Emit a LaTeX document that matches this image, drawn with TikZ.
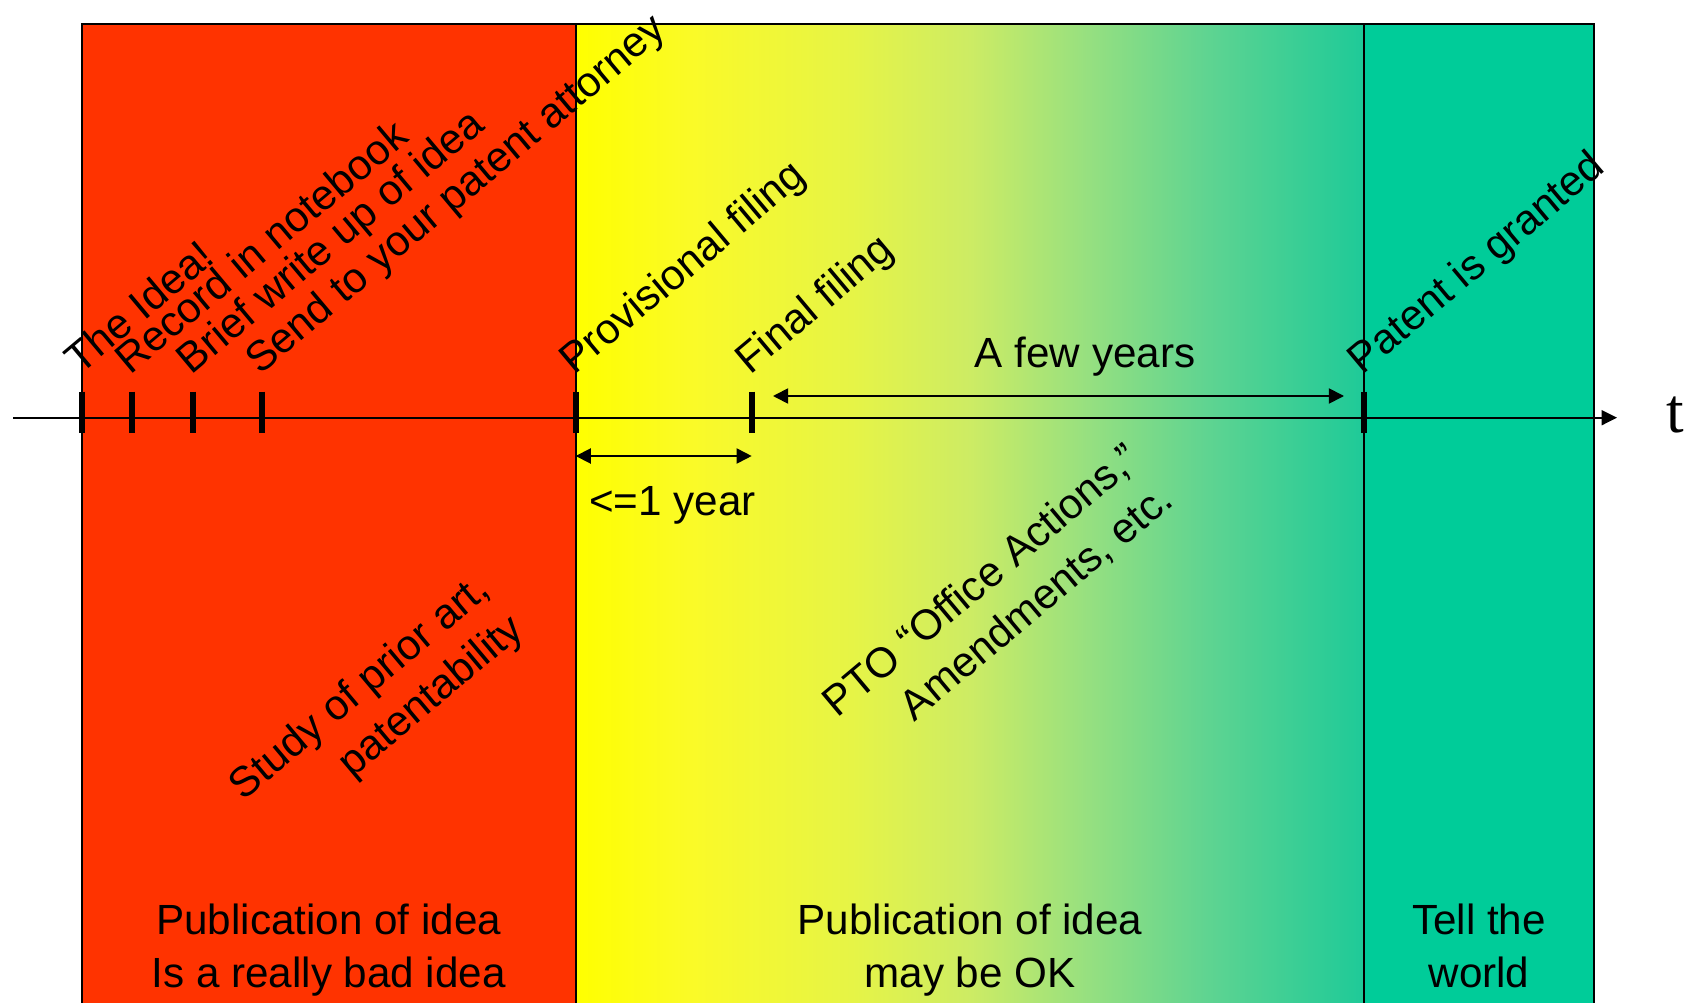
\documentclass[tikz,border=0pt]{standalone}
\usepackage{fontspec}
\setmainfont{Liberation Sans}
\newfontfamily\timesfont{Liberation Serif}
\usetikzlibrary{arrows.meta}

\definecolor{badred}{RGB}{255,51,0}
\definecolor{okgreen}{RGB}{0,204,153}
% yellow -> green, the yellow stays long
\pgfdeclarehorizontalshading{maybeok}{100bp}{rgb(0bp)=(1,1,0); rgb(25bp)=(1,1,0);
  rgb(32.5bp)=(0.98,0.98,0.157); rgb(42.5bp)=(0.902,0.957,0.275);
  rgb(50bp)=(0.804,0.925,0.392); rgb(57.5bp)=(0.588,0.878,0.502);
  rgb(65bp)=(0.373,0.831,0.569); rgb(75bp)=(0.118,0.792,0.596);
  rgb(100bp)=(0.118,0.792,0.596)}

\begin{document}
\begin{tikzpicture}[x=0.01cm,y=-0.01cm,
    txt/.style={font=\fontsize{12}{14.9}\selectfont,inner sep=0pt},
    event/.style={txt,rotate=40,anchor=base west},
    tickmark/.style={line width=1.7pt},
    span/.style={line width=0.5pt,{Triangle[length=4.3pt,width=4.3pt]}-{Triangle[length=4.3pt,width=4.3pt]}}]
  \useasboundingbox (0,0) rectangle (1690,1003);
  \clip (0,0) rectangle (1690,1003);

  % the three periods
  \fill[badred] (81.7,24) rectangle (575.7,1010);
  \shade[shading=maybeok] (575.7,24) rectangle (1364,1010);
  \fill[okgreen] (1364,24) rectangle (1594,1010);
  \draw[line width=0.5pt] (81.7,1010) -- (81.7,24) -- (1594,24) -- (1594,1010);
  \draw[line width=0.5pt] (575.7,24) -- (575.7,1010);
  \draw[line width=0.5pt] (1364,24) -- (1364,1010);

  % time axis
  \coordinate (axstart) at (13,417.7);
  \coordinate (axend) at (1617,417.7);
  \draw[line width=0.5pt,-{Triangle[length=4.4pt,width=4.3pt]}] (axstart) -- (axend);
  \node[font=\timesfont\fontsize{18}{20}\selectfont,inner sep=0pt,anchor=base] (tlabel) at (1675.5,432.7) {t};

  \coordinate (idea) at (81.7,417.7);
  \coordinate (notebook) at (131.7,417.7);
  \coordinate (writeup) at (193.3,417.7);
  \coordinate (attorney) at (261.7,417.7);
  \coordinate (provisional) at (575.7,417.7);
  \coordinate (final) at (751.7,417.7);
  \coordinate (granted) at (1364,417.7);

  \draw[tickmark] (idea) ++(0,-26) -- ++(0,41.6);
  \draw[tickmark] (notebook) ++(0,-26) -- ++(0,41.6);
  \draw[tickmark] (writeup) ++(0,-26) -- ++(0,41.6);
  \draw[tickmark] (attorney) ++(0,-26) -- ++(0,41.6);
  \draw[tickmark] (provisional) ++(0,-26) -- ++(0,41.6);
  \draw[tickmark] (final) ++(0,-26) -- ++(0,41.6);
  \draw[tickmark] (granted) ++(0,-26) -- ++(0,41.6);

  \node[event] (idea text) at (79.7,376) {The Idea!};
  \node[event] (notebook text) at (129.7,376) {Record in notebook};
  \node[event] (writeup text) at (191.3,376) {Brief write up of idea};
  \node[event] (attorney text) at (259.7,376) {Send to your patent attorney};
  \node[event] (provisional text) at (573.7,376) {Provisional filing};
  \node[event] (final text) at (749.7,376) {Final filing};
  \node[event] (granted text) at (1362,376) {Patent is granted};

  % durations
  \coordinate (yearL) at (575.7,456);
  \coordinate (yearR) at (751.7,456);
  \draw[span] (yearL) -- (yearR);
  \node[txt,anchor=base] (year) at (672.5,515) {<=1 year};

  \coordinate (fewL) at (773,396);
  \coordinate (fewR) at (1344,396);
  \draw[span] (fewL) -- (fewR);
  \node[txt,anchor=base] (few) at (1085,367) {A few years};

  % what happens in between
  \node[txt,rotate=40,align=right,anchor=base east] (prior) at (526,633) {Study of prior art,\\patentability};
  \node[txt,rotate=40,align=right,anchor=base east] (pto) at (1176,503) {PTO “Office Actions,”\\Amendments, etc.};

  \node[txt,align=center,anchor=base] (badnote) at (328.7,987) {Publication of idea\\Is a really bad idea};
  \node[txt,align=center,anchor=base] (oknote) at (970,987) {Publication of idea\\may be OK};
  \node[txt,align=center,anchor=base] (worldnote) at (1479,987) {Tell the\\world};
\end{tikzpicture}
\end{document}
